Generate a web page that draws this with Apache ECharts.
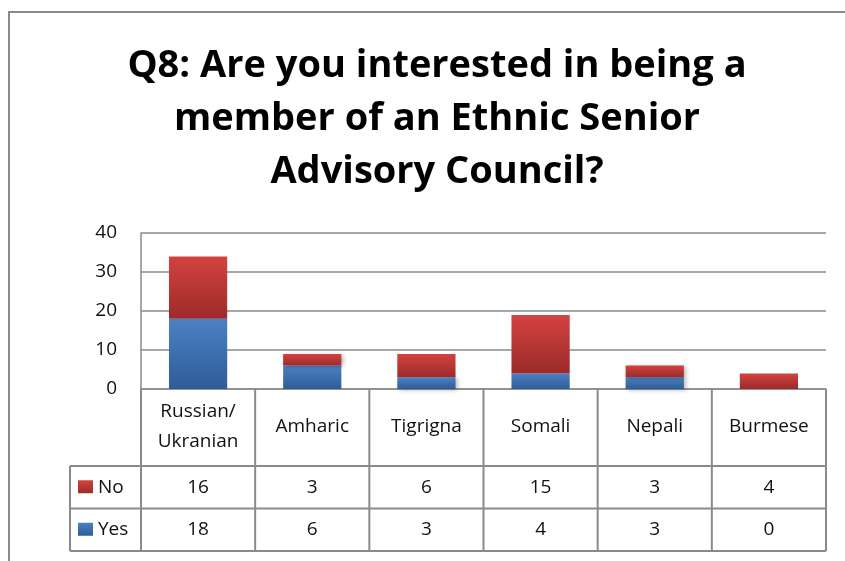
<!DOCTYPE html>
<html>
<head>
<meta charset="utf-8">
<script src="https://cdn.jsdelivr.net/npm/echarts@6/dist/echarts.min.js"></script>
<style>
  html, body { margin: 0; padding: 0; background: #fff; }
  #chart { width: 845px; height: 561px; }
</style>
</head>
<body>
<div id="chart"></div>
<script>
// Survey answers per language group
const categories = ['Russian/\nUkranian', 'Amharic', 'Tigrigna', 'Somali', 'Nepali', 'Burmese'];
const noValues = [16, 3, 6, 15, 3, 4];
const yesValues = [18, 6, 3, 4, 3, 0];
const seriesNames = ['No', 'Yes'];
const yMin = 0, yMax = 40, yStep = 10;

const FONT = '"Open Sans", sans-serif';
const TEXT_SIZE = 19;
const LINE = '#8a8a8a';

function grad(top, bottom) {
  return new echarts.graphic.LinearGradient(0, 0, 0, 1, [
    { offset: 0, color: top }, { offset: 1, color: bottom }
  ]);
}
const redFill = () => grad('#d44240', '#9b2b29');
const blueFill = () => grad('#4b81c3', '#2e5c98');

const chart = echarts.init(document.getElementById('chart'), null, { renderer: 'canvas' });

const barShadow = {
  shadowColor: 'rgba(0,0,0,0.28)', shadowBlur: 4, shadowOffsetX: 2, shadowOffsetY: 1
};

chart.setOption({
  animation: false,
  backgroundColor: '#fff',
  title: {
    text: 'Q8: Are you interested in being a\nmember of an Ethnic Senior\nAdvisory Council?',
    left: 432,
    top: 35,
    textAlign: 'center',
    textStyle: {
      fontFamily: FONT, fontWeight: 'bold', fontSize: 38, lineHeight: 53, color: '#000'
    }
  },
  grid: { left: 141, right: 19, top: 233, bottom: 172, containLabel: false },
  xAxis: {
    type: 'category',
    data: categories,
    axisLine: { show: true, lineStyle: { color: LINE, width: 1.5 } },
    axisTick: { show: false },
    axisLabel: {
      interval: 0, margin: 38, verticalAlign: 'middle',
      fontFamily: FONT, fontSize: TEXT_SIZE, lineHeight: 30, color: '#111'
    }
  },
  yAxis: {
    type: 'value', min: yMin, max: yMax, interval: yStep,
    axisLine: { show: true, lineStyle: { color: LINE, width: 1.5 } },
    axisTick: { show: false },
    splitLine: { lineStyle: { color: LINE, width: 1.5 } },
    axisLabel: { margin: 24, fontFamily: FONT, fontSize: TEXT_SIZE, color: '#111' }
  },
  series: [
    {
      name: 'Yes', type: 'bar', stack: 'total', barWidth: '51%',
      data: yesValues,
      itemStyle: Object.assign({ color: blueFill() }, barShadow)
    },
    {
      name: 'No', type: 'bar', stack: 'total', barWidth: '51%',
      data: noValues,
      itemStyle: Object.assign({ color: redFill() }, barShadow)
    }
  ]
});

// Data table under the plot, laid out on the category axis bands
function buildTable() {
  const n = categories.length;
  const c0 = chart.convertToPixel({ xAxisIndex: 0 }, 0);
  const c1 = chart.convertToPixel({ xAxisIndex: 0 }, 1);
  const band = c1 - c0;
  const left = c0 - band / 2;
  const right = left + band * n;
  const yTop = chart.convertToPixel({ yAxisIndex: 0 }, 0);
  const yLabelBottom = yTop + 77;
  const rowH = 42.5;
  const yRow1 = yLabelBottom + rowH;
  const yRow2 = yRow1 + rowH;
  const legendLeft = left - 71;

  const els = [];
  const line = (x1, y1, x2, y2) => els.push({
    type: 'line', silent: true,
    shape: { x1, y1, x2, y2 },
    style: { stroke: LINE, lineWidth: 2 }
  });

  for (let i = 0; i <= n; i++) {
    const x = left + i * band;
    line(x, yTop, x, yRow2);
  }
  line(legendLeft, yLabelBottom, right, yLabelBottom);
  line(legendLeft, yRow1, right, yRow1);
  line(legendLeft, yRow2, right, yRow2);
  line(legendLeft, yLabelBottom, legendLeft, yRow2);

  const rows = [
    { name: seriesNames[0], values: noValues, fill: redFill(), y: yLabelBottom },
    { name: seriesNames[1], values: yesValues, fill: blueFill(), y: yRow1 }
  ];
  const font = TEXT_SIZE + 'px ' + FONT;
  rows.forEach(r => {
    const cy = r.y + rowH / 2;
    els.push({
      type: 'rect', silent: true,
      shape: { x: legendLeft + 8, y: cy - 7, width: 15, height: 13 },
      style: { fill: r.fill }
    });
    els.push({
      type: 'text', silent: true,
      x: legendLeft + 28, y: cy,
      style: {
        text: r.name, fill: '#111', font,
        align: 'left', verticalAlign: 'middle'
      }
    });
    r.values.forEach((v, i) => {
      els.push({
        type: 'text', silent: true,
        x: left + band * (i + 0.5), y: cy,
        style: {
          text: String(v), fill: '#111', font,
          align: 'center', verticalAlign: 'middle'
        }
      });
    });
  });

  // outer chart frame
  els.push({
    type: 'rect', silent: true,
    shape: { x: 9, y: 12, width: 860, height: 580 },
    style: { fill: 'none', stroke: LINE, lineWidth: 2 }
  });

  chart.setOption({ graphic: els });
}
buildTable();
</script>
</body>
</html>
